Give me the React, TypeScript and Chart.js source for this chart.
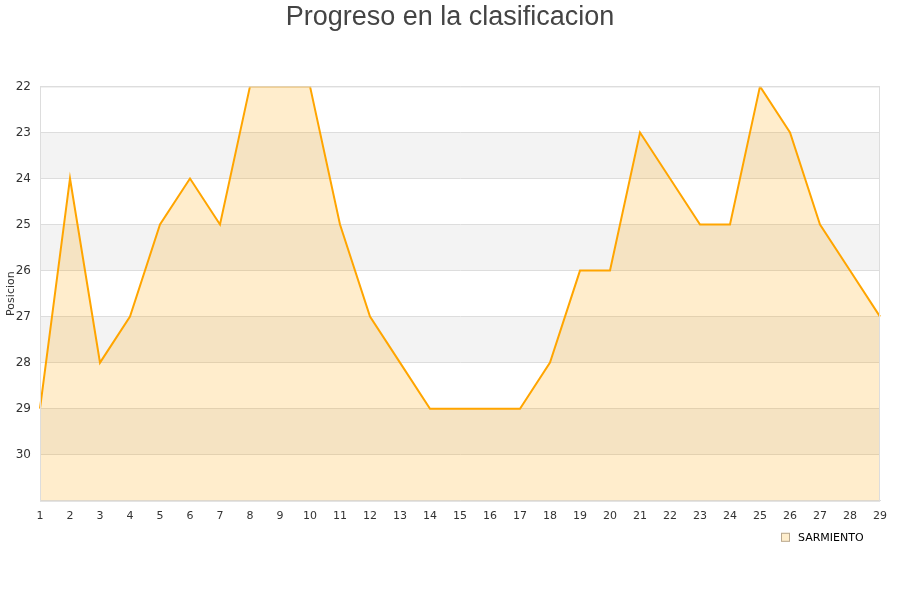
import React, { useEffect, useRef } from "react";
import { Chart, registerables } from "chart.js";

Chart.register(...registerables);

const jornadas = ["1","2","3","4","5","6","7","8","9","10","11","12","13","14","15","16","17","18","19","20","21","22","23","24","25","26","27","28","29"];
const posiciones = [29,24,28,27,25,24,25,22,22,22,25,27,28,29,29,29,29,28,26,26,23,24,25,25,22,23,25,26,27];
const yTicks = [22,23,24,25,26,27,28,29,30];
const greyBandStarts = [23,25,27,29];
const equipo = "SARMIENTO";

const bandsPlugin = {
  id: "bands",
  beforeDraw(chart: any) {
    const { ctx, chartArea, scales } = chart;
    const y = scales.y;
    ctx.save();
    ctx.fillStyle = "#f3f3f3";
    greyBandStarts.forEach((s) => {
      const a = y.getPixelForValue(s);
      const b = y.getPixelForValue(s + 1);
      ctx.fillRect(chartArea.left, Math.min(a, b), chartArea.right - chartArea.left, Math.abs(b - a));
    });
    ctx.restore();
  },
  afterDatasetsDraw(chart: any) {
    const { ctx, chartArea } = chart;
    ctx.save();
    ctx.strokeStyle = "#dddddd";
    ctx.lineWidth = 1;
    ctx.strokeRect(chartArea.left + 0.5, chartArea.top + 0.5, chartArea.right - chartArea.left - 1, chartArea.bottom - chartArea.top);
    ctx.restore();
  },
  afterDraw(chart: any) {
    const { ctx, chartArea } = chart;
    ctx.save();
    const bx = chartArea.right - 99;
    const by = chartArea.bottom + 32;
    ctx.fillStyle = "#FFEECC";
    ctx.fillRect(bx, by, 9, 9);
    ctx.strokeStyle = "#b8a890";
    ctx.lineWidth = 1;
    ctx.strokeRect(bx + 0.5, by + 0.5, 8, 8);
    ctx.fillStyle = "#000000";
    ctx.font = "11px 'DejaVu Sans'";
    ctx.textBaseline = "middle";
    ctx.textAlign = "left";
    ctx.fillText(equipo, bx + 17, by + 5);
    ctx.restore();
  },
};

export default function App() {
  const ref = useRef<HTMLCanvasElement>(null);
  useEffect(() => {
    document.body.style.margin = "0";
    const chart = new Chart(ref.current!, {
      type: "line",
      data: {
        labels: jornadas,
        datasets: [
          {
            label: equipo,
            data: posiciones,
            borderColor: "#FFA500",
            backgroundColor: "rgba(255,165,0,0.2)",
            borderWidth: 2,
            fill: { value: 31 },
            pointRadius: 0,
            tension: 0,
          },
        ],
      },
      options: {
        animation: false,
        responsive: false,
        layout: { padding: { left: 0, right: 0, top: 0, bottom: 76 } },
        plugins: {
          title: {
            display: true,
            text: "Progreso en la clasificacion",
            color: "#444444",
            font: { family: "Liberation Sans", size: 27, weight: "normal" },
            padding: { top: 1, bottom: 53 },
          },
          legend: { display: false },
          tooltip: { enabled: false },
        },
        scales: {
          x: {
            offset: false,
            grid: { display: false },
            border: { display: true, color: "#dddddd" },
            ticks: {
              color: "#333333",
              font: { family: "DejaVu Sans", size: 11 },
              maxRotation: 0,
              autoSkip: false,
              padding: 1,
            },
          },
          y: {
            reverse: true,
            min: 22,
            max: 31,
            afterBuildTicks: (axis: any) => {
              axis.ticks = [...yTicks, 31].map((v) => ({ value: v }));
            },
            afterFit: (axis: any) => {
              axis.width = 40;
            },
            grid: { color: "#dddddd", drawTicks: false },
            border: { display: true, color: "#dddddd" },
            title: {
              display: true,
              text: "Posicion",
              color: "#333333",
              font: { family: "DejaVu Sans", size: 11 },
              padding: { top: 5, bottom: 0 },
            },
            ticks: {
              color: "#333333",
              font: { family: "DejaVu Sans", size: 12 },
              padding: 9,
              callback: (v: any) => (yTicks.includes(Number(v)) ? String(v) : ""),
            },
          },
          yRight: {
            position: "right",
            display: true,
            grid: { display: false },
            border: { display: false },
            ticks: { display: false },
            afterFit: (axis: any) => {
              axis.width = 20;
            },
          },
        },
      },
      plugins: [bandsPlugin],
    } as any);
    return () => chart.destroy();
  }, []);
  return (
    <div style={{ position: "fixed", left: 0, top: 0, width: 900, height: 600 }}>
      <canvas ref={ref} width={900} height={600} />
    </div>
  );
}
